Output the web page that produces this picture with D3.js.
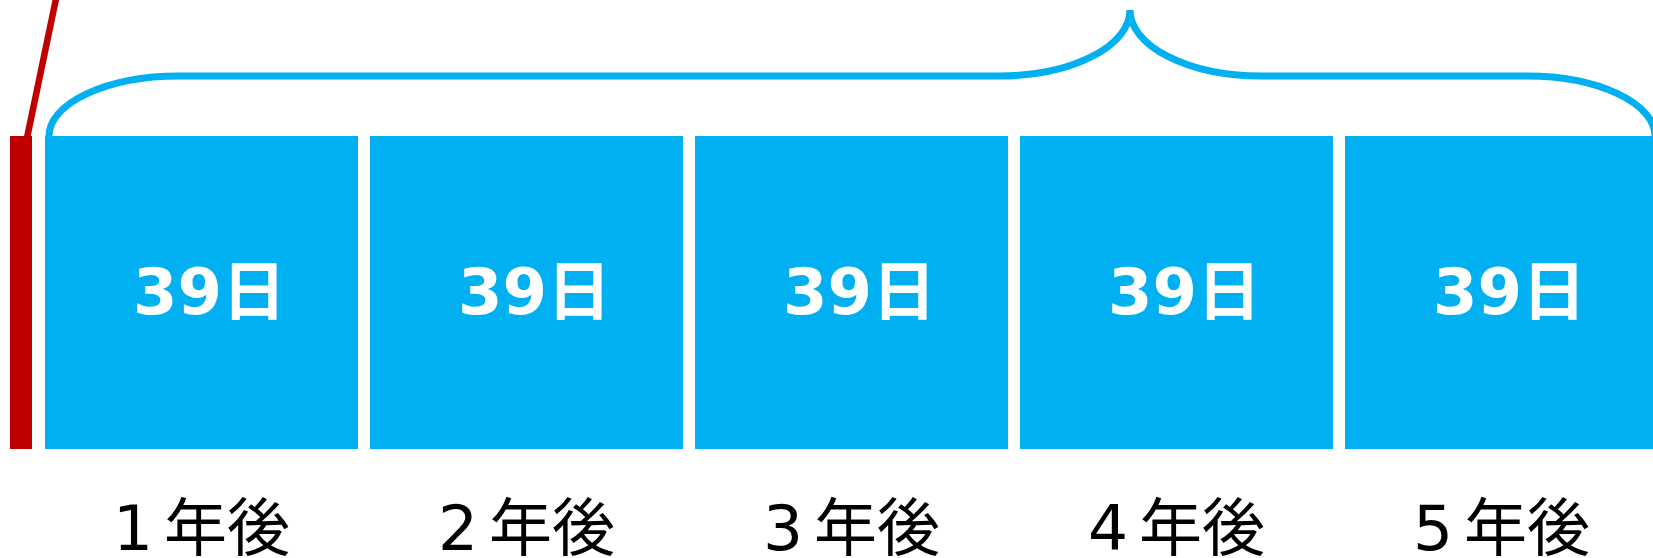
<!DOCTYPE html>
<html>
<head>
<meta charset="utf-8">
<script src="https://cdn.jsdelivr.net/npm/d3@7"></script>
<style>
  body { margin: 0; background: #fff; overflow: hidden; }
  svg { display: block; }
</style>
</head>
<body>
<svg id="chart" width="1653" height="558"></svg>
<script>
const categories = ['1 年後', '2 年後', '3 年後', '4 年後', '5 年後'];
const values = [39, 39, 39, 39, 39];
const valueLabels = values.map(v => v + '日');

const blue = '#00B0F0';
const red = '#C00000';
const font = '"DejaVu Sans", "Noto Sans CJK JP", sans-serif';

const svg = d3.select('#chart');

const x = d3.scaleBand()
    .domain(categories)
    .range([45, 1658])
    .paddingInner(0.0369)
    .paddingOuter(0);

const y = d3.scaleLinear()
    .domain([0, 39])
    .range([449, 136]);

// red "today" marker
svg.append('rect')
    .attr('x', 10)
    .attr('y', y(39))
    .attr('width', 22)
    .attr('height', y(0) - y(39))
    .attr('fill', red);

svg.append('line')
    .attr('x1', 27)
    .attr('y1', y(39) + 2)
    .attr('x2', 57)
    .attr('y2', -6)
    .attr('stroke', red)
    .attr('stroke-width', 6.5);

// bars
svg.selectAll('rect.bar')
    .data(categories)
    .enter()
    .append('rect')
    .attr('class', 'bar')
    .attr('x', d => x(d))
    .attr('y', (d, i) => y(values[i]))
    .attr('width', x.bandwidth())
    .attr('height', (d, i) => y(0) - y(values[i]))
    .attr('fill', blue);

svg.selectAll('text.val')
    .data(categories)
    .enter()
    .append('text')
    .attr('class', 'val')
    .attr('x', d => x(d) + x.bandwidth() / 2 + 8)
    .attr('y', (d, i) => (y(values[i]) + y(0)) / 2 + 21)
    .attr('text-anchor', 'middle')
    .attr('fill', '#fff')
    .attr('font-family', font)
    .attr('font-weight', 'bold')
    .attr('font-size', 64)
    .text((d, i) => valueLabels[i]);

svg.selectAll('text.cat')
    .data(categories)
    .enter()
    .append('text')
    .attr('class', 'cat')
    .attr('x', d => x(d) + x.bandwidth() / 2)
    .attr('y', 550)
    .attr('text-anchor', 'middle')
    .attr('fill', '#000')
    .attr('font-family', font)
    .attr('font-size', 63)
    .attr('word-spacing', -9)
    .text(d => d);

// curly brace over all bars
const braceBase = y(39);
const mid = 76;
const tipX = 1130, tipY = 10;
const left = x(categories[0]) + 4;
const right = x(categories[4]) + x.bandwidth() - 3;
const bracePath = [
    `M${left},${braceBase}`,
    `A130,${braceBase - mid} 0 0 1 ${left + 130},${mid}`,
    `L${tipX - 131},${mid}`,
    `A131,${mid - tipY} 0 0 0 ${tipX},${tipY}`,
    `A131,${mid - tipY} 0 0 0 ${tipX + 131},${mid}`,
    `L${right - 128},${mid}`,
    `A128,${braceBase - mid} 0 0 1 ${right},${braceBase}`
].join(' ');

svg.append('path')
    .attr('d', bracePath)
    .attr('fill', 'none')
    .attr('stroke', blue)
    .attr('stroke-width', 7);
</script>
</body>
</html>
